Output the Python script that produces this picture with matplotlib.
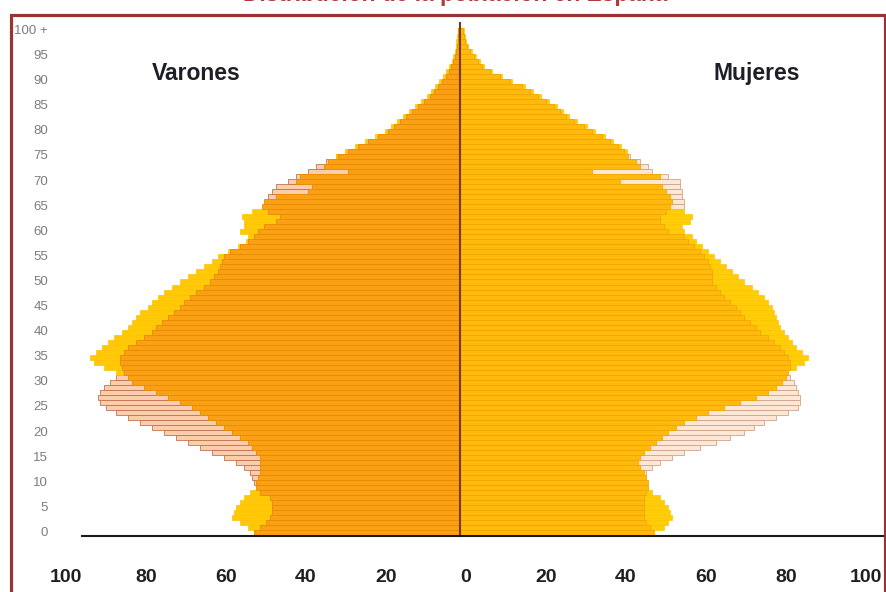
import numpy as np
import matplotlib.pyplot as plt
from matplotlib.patches import Rectangle

edades = np.arange(0, 101)

# Varones (lado izquierdo), una barra por año de edad
varones_naranja = [
    51.5, 50, 48.5, 47.5, 47, 47, 47, 47.5, 50, 51,
    51, 50.5, 50, 50, 50, 50, 51, 52, 53, 55,
    57, 59, 61, 63, 65, 67, 70, 73, 76, 79,
    82, 83, 84, 84.5, 85, 85, 84, 83, 81, 79,
    77, 76, 74.5, 73, 71.5, 70, 69, 67.5, 66, 64,
    62.5, 61.5, 60.5, 60, 59.5, 59, 57.5, 55, 53, 51.5,
    50.5, 49, 46, 45, 48, 49.5, 49, 46, 38, 37,
    41, 40, 28, 34, 33, 30.5, 28, 25.5, 23, 20.5,
    18, 16.5, 15, 13.5, 12, 10.5, 9, 7.5, 6.5, 5.5,
    4.5, 3.5, 2.8, 2.2, 1.7, 1.3, 1, 0.8, 0.6, 0.5, 0.4,
]
varones_amarillo = [
    51, 53, 55, 57, 56.5, 56, 55, 54, 52.5, 50,
    49, 48.5, 48, 48, 48, 48, 49, 50, 51, 53,
    55, 57, 59, 61, 63, 65, 68, 71, 74, 77,
    80, 82.5, 86, 89, 91.5, 92.5, 91, 89.5, 88, 86.5,
    84.5, 83, 82, 81, 80, 78, 77, 75.5, 74, 72,
    70, 68, 66, 64, 62, 60.5, 58, 55.5, 53.5, 53,
    55, 54, 54, 54.5, 52, 48, 47, 45, 37, 36,
    39, 38, 27, 33, 32.5, 31, 28.8, 26.3, 23.8, 21.3,
    18.8, 17.3, 15.8, 14.3, 12.8, 11.3, 9.8, 8.3, 7.2, 6.2,
    5.2, 4.2, 3.4, 2.7, 2.1, 1.7, 1.3, 1.1, 0.9, 0.7, 0.6,
]
varones_contorno = [
    50, 49, 47, 46, 46, 46, 46, 46.5, 49, 50.5,
    51.5, 52, 52.5, 54, 56, 59, 62, 65, 68, 71,
    74, 77, 80, 83, 86, 88.5, 90, 90.5, 90, 89,
    87.5, 86, 84.5, 83, 82, 81, 80, 79, 77, 76,
    74, 73, 72, 70, 69, 67, 66, 65, 63, 62,
    60, 59, 58, 57, 56, 55, 54, 53, 51, 50,
    49, 48, 45, 44, 47, 48.5, 48.5, 48, 47, 46,
    43, 41, 38, 36, 33.5, 31, 27.5, 25, 22.5, 20,
    17.5, 16, 14.5, 13, 11.5, 10, 8.5, 7, 6, 5,
    4, 3, 2.4, 1.9, 1.5, 1.1, 0.9, 0.7, 0.5, 0.4, 0.3,
]

# Mujeres (lado derecho)
mujeres_naranja = [
    48.5, 47.5, 46.5, 46, 46, 46, 46, 46, 46.5, 47,
    47, 46.5, 46, 45, 44.5, 45, 46, 47.5, 49, 50.5,
    52, 54, 56, 59, 62, 66, 70, 74, 77, 79,
    80.5, 81.5, 82, 82.5, 82.5, 82, 81, 80, 78.5, 77,
    75, 74, 72.5, 71, 70, 69, 67.5, 66, 65, 64,
    63, 63, 63, 62.5, 62, 61, 60, 58.5, 57, 56,
    52, 51, 50, 50, 51.5, 52.5, 53, 52.5, 51.5, 50.5,
    40, 50, 33, 45, 44, 42, 41, 39.5, 37.5, 35.5,
    33, 31, 28.5, 26.5, 25, 23.5, 21.5, 19.5, 17.5, 15.5,
    12.5, 10, 7.5, 5.5, 4.5, 3.5, 2.5, 1.7, 1.3, 1, 0.8,
]
mujeres_amarillo = [
    48, 51, 52, 53, 52.5, 52, 51, 50, 48, 46,
    45, 44.5, 44, 43.5, 43, 43.5, 44.5, 46, 47.5, 49,
    50.5, 52.5, 54.5, 57, 60, 63.5, 67, 71, 74, 76.5,
    78.5, 80, 81.5, 84, 86, 87, 85.5, 84, 83, 82,
    81, 80, 79.5, 79, 78.5, 78, 77, 76, 74.5, 73,
    71, 69.5, 68, 66.5, 65, 63.5, 62, 60.5, 59, 58,
    56, 55.5, 57.5, 58, 56, 51.5, 52, 51.5, 50.5, 49.5,
    39, 49, 32, 44, 43, 41.5, 41.7, 40.2, 38.2, 36.2,
    33.7, 31.7, 29.2, 27.2, 25.7, 24.2, 22.2, 20.2, 18.2, 16.2,
    13, 10.5, 8, 6, 5, 4, 3, 2.1, 1.6, 1.3, 1,
]
mujeres_contorno = [
    47, 46, 45, 45, 45, 45, 45, 45, 45.5, 46,
    46.5, 46.5, 46.5, 48, 50, 53, 56, 60, 64, 67.5,
    71, 73.5, 76, 79, 82, 84.5, 85, 85, 84.5, 84,
    83.5, 82.5, 81.5, 80.5, 79.5, 78.5, 77.5, 76.5, 75, 74,
    72, 71, 70, 69, 68, 67, 66, 64.5, 63.5, 62.5,
    61.5, 61.5, 61.5, 61, 60.5, 59.5, 58.5, 57, 55.5, 54.5,
    51, 50, 49, 49, 51, 56, 56, 55.5, 55.5, 55,
    55, 52, 48, 47, 45, 42.5, 40, 38.5, 36.5, 34.5,
    32, 30, 27.5, 25.5, 24, 22.5, 20.5, 18.5, 16.5, 14.5,
    12, 9.5, 7, 5, 4, 3, 2, 1.4, 1, 0.8, 0.6,
]

etiquetas_edad = [0, 5, 10, 15, 20, 25, 30, 35, 40, 45, 50,
                  55, 60, 65, 70, 75, 80, 85, 90, 95]
etiquetas_x = [100, 80, 60, 40, 20, 0, 20, 40, 60, 80, 100]
valores_x = [-100, -80, -60, -40, -20, 0, 20, 40, 60, 80, 100]

titulo = "Distribución de la población en España"

W, H = 887, 592
fig = plt.figure(figsize=(W / 100, H / 100), dpi=100)
ax = fig.add_axes([0, 0, 1, 1])
ax.set_axis_off()

# escala: 4 px por unidad, centro en x=460; 5.02 px por año, edad 0 en y=533
ax.set_xlim((0 - 460) / 4, (W - 460) / 4)
ax.set_ylim((533 - H) / 5.02, 533 / 5.02)

plt.rcParams['font.family'] = ['Liberation Sans', 'DejaVu Sans']

v_o = np.array(varones_naranja)
v_a = np.array(varones_amarillo)
v_c = np.array(varones_contorno)
m_o = np.array(mujeres_naranja)
m_a = np.array(mujeres_amarillo)
m_c = np.array(mujeres_contorno)

# capas: contorno debajo, amarillo en medio, naranja encima
ax.barh(edades, -v_c, height=1.0, color="#FCCDAB", edgecolor="#C27450", linewidth=0.6, zorder=1)
ax.barh(edades, m_c, height=1.0, color="#FEE7D4", edgecolor="#CFA48A", linewidth=0.6, zorder=1)
ax.barh(edades, -v_a, height=1.0, color="#FFC907", edgecolor="#FFC200", linewidth=0.5, zorder=2)
ax.barh(edades, m_a, height=1.0, color="#FFCC08", edgecolor="#FFC400", linewidth=0.5, zorder=2)
ax.barh(edades, -v_o, height=1.0, color="#F9A014", edgecolor="#EA8A00", linewidth=0.6, zorder=3)
ax.barh(edades, m_o, height=1.0, color="#FFBA0C", edgecolor="#F2A500", linewidth=0.6, zorder=3)

# eje central y linea base
ax.plot([0, 0], [-0.55, (533 - 23) / 5.02], color="#7A3A10", linewidth=1.5, zorder=4)
ax.plot([(82 - 460) / 4, (W - 460) / 4], [-0.55, -0.55], color="#1a1a1a", linewidth=1.5, zorder=4)

# edades a la izquierda
for e in etiquetas_edad:
    ax.text(-103, e, str(e), ha="right", va="center", fontsize=9.5, color="#7c7c7c")
ax.text(-103, 100, "100 +", ha="right", va="center", fontsize=9.5, color="#7c7c7c")

# escala horizontal
for v, t in zip(valores_x, etiquetas_x):
    ax.text(v + 1.5, -8.96, str(t), ha="center", va="center", fontsize=14,
            fontweight="bold", color="#202020")

ax.text(-66, 91.6, "Varones", ha="center", va="center", fontsize=16.5,
        fontweight="bold", color="#1e1e28")
ax.text(74.25, 91.6, "Mujeres", ha="center", va="center", fontsize=16.5,
        fontweight="bold", color="#1e1e28")

# marco y titulo (el titulo queda cortado por el borde superior)
fig.patches.append(Rectangle((11 / W, -0.05), (885.5 - 11) / W, 1.05 - 14.5 / H,
                             transform=fig.transFigure, fill=False,
                             edgecolor="#9B3333", linewidth=2.3))
fig.text(455 / W, 1 + 17.5 / H, titulo, ha="center", va="top",
         fontsize=16.4, fontweight="bold", color="#B03A3A")

fig.savefig("out.png", dpi=100)
